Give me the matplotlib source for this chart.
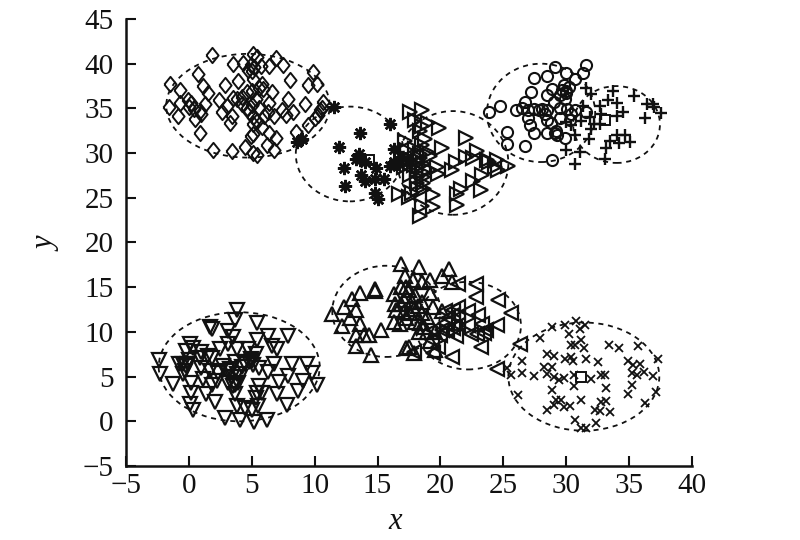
import matplotlib
matplotlib.use("Agg")
import matplotlib.pyplot as plt
from matplotlib.patches import Ellipse

plt.rcParams['font.family'] = ['Liberation Serif', 'DejaVu Serif']

x_ticks = [-5, 0, 5, 10, 15, 20, 25, 30, 35, 40]
y_ticks = [-5, 0, 5, 10, 15, 20, 25, 30, 35, 40, 45]

tri_down = [(-2.4,6.9),(-2.3,5.3),(-1.3,4.2),(-0.8,6.4),(-0.5,6.4),(-0.2,6.2),(-0.3,5.6),(-0.1,6.4),(0.1,8.6),(0.3,8.2),
 (-0.2,7.9),(1.0,7.7),(0.9,7.1),(1.5,7.3),(1.8,7.1),(1.7,10.5),(1.8,10.3),(3.1,10.1),(3.7,11.3),(3.8,12.4),(5.4,11.0),
 (3.5,9.4),(3.1,8.6),(5.4,9.1),(6.3,9.5),(7.9,9.5),(6.6,8.4),(7.0,8.1),(2.5,8.1),(3.8,8.1),(4.7,8.1),(5.3,7.5),(5.0,6.8),
 (4.5,6.4),(3.7,6.6),(2.7,6.2),(1.7,5.6),(2.3,5.4),(1.0,6.0),(1.1,4.7),(0.2,4.3),(-0.5,5.3),(0.2,3.2),(1.4,3.0),(2.1,2.2),
 (1.8,4.1),(2.2,4.5),(3.1,4.3),(3.7,4.1),(3.9,4.3),(3.8,5.3),(3.0,5.6),(3.5,4.0),(3.7,3.0),(5.6,4.0),(5.4,3.2),(5.8,3.2),
 (5.3,2.6),(7.0,3.0),(7.2,4.4),(7.9,5.1),(8.7,3.4),(9.1,4.5),(10.2,4.1),(9.8,5.4),(9.4,6.4),(8.2,6.4),(6.8,6.4),(6.3,5.5),
 (5.6,6.0),(3.8,1.7),(4.5,1.5),(5.5,1.7),(5.0,1.3),(7.8,1.8),(0.1,1.9),(0.3,1.3),(2.9,0.4),(4.1,0.1),(5.2,-0.1),(6.2,0.1),
 (4.8,6.6),(4.2,6.1),(3.3,5.9),(4.1,5.0),(3.4,4.9),(5.1,6.3),(4.9,7.0),(0.0,6.9)]

diamonds = [(-1.5,37.7),(-0.7,37.1),(-1.6,35.2),(-0.9,34.1),(-0.1,35.9),(-0.7,35.6),(0.2,35.6),(0.7,38.9),(1.8,41.0),(1.1,37.5),
 (1.5,36.7),(1.3,35.5),(0.9,34.7),(0.5,33.8),(0.9,32.3),(1.9,30.4),(3.4,30.2),(4.5,30.7),(5.1,30.0),(5.4,29.8),(6.2,30.9),
 (6.8,30.3),(6.9,31.7),(6.4,32.2),(8.5,32.4),(9.5,33.1),(10.3,34.3),(10.6,35.1),(10.7,35.7),(9.2,35.5),(8.3,34.6),(7.9,36.0),
 (7.4,34.8),(6.8,34.1),(6.3,34.6),(6.4,35.6),(6.6,36.8),(5.8,37.7),(5.3,36.0),(5.6,35.1),(5.1,34.0),(5.8,32.9),(5.1,32.1),
 (4.6,35.1),(4.6,36.8),(3.9,38.1),(2.9,37.6),(2.4,35.9),(3.5,36.2),(3.0,35.3),(2.6,34.6),(3.4,34.2),(3.3,33.4),(3.5,40.0),
 (4.3,40.1),(5.1,41.1),(5.4,40.7),(5.0,39.2),(4.9,39.9),(5.7,39.7),(6.4,39.7),(6.9,40.6),(7.5,39.9),(8.0,38.2),(9.9,39.1),
 (9.5,37.6),(10.2,37.7),(5.1,38.3),(5.9,37.2),(4.2,36.3),(4.8,34.6),(5.4,33.6),(5.1,33.2),(4.9,31.9),(7.7,34.3),(5.0,37.0),
 (3.8,36.0),(4.2,35.5),(5.0,35.4),(6.0,34.2),(5.6,37.3),(5.2,39.6),(4.7,39.3),(0.4,34.9),(1.0,34.4),(10.0,33.9),(10.4,34.8),(0.0,35.2)]

stars = [(11.5,35.2),(16.0,33.3),(13.6,32.2),(11.9,30.7),(13.5,29.9),(13.6,29.2),(14.0,29.0),(12.3,28.3),(14.9,28.3),(16.3,30.5),
 (16.3,29.0),(16.7,28.8),(13.7,27.5),(14.0,26.9),(14.8,27.1),(15.5,27.1),(12.4,26.3),(14.8,25.5),(15.0,24.9),(8.6,31.2),
 (9.0,31.6),(16.0,28.6),(13.3,29.3),(16.9,29.6),(17.4,29.2)]

tri_right = [(17.6,34.6),(18.5,34.8),(18.0,33.7),(19.0,33.4),(19.9,32.8),(18.4,32.5),(22.0,31.7),(17.2,31.4),(18.5,30.9),(20.1,30.6),
 (17.3,30.3),(19.2,29.7),(22.9,30.2),(22.0,29.6),(21.2,29.0),(20.9,28.1),(23.7,29.2),(24.5,29.2),(25.4,28.6),(24.6,28.1),
 (23.3,27.5),(22.6,26.9),(23.2,25.9),(21.6,26.0),(21.3,25.4),(21.3,24.2),(19.4,25.3),(19.4,24.0),(18.4,23.0),(18.5,24.1),
 (17.5,25.1),(16.7,25.4),(18.1,26.6),(18.6,26.6),(19.7,28.4),(19.8,27.7),(18.6,28.8),(18.1,28.1),(17.6,29.2),(17.1,28.4),
 (18.4,29.9),(18.1,27.3),(18.6,27.3),(17.7,25.5),(22.6,29.5),(23.9,29.0),(24.3,28.5),(17.6,27.5),(18.9,30.1),(18.2,29.2),
 (18.3,28.6),(18.5,27.9),(18.0,30.5),(18.8,31.6),(18.2,26.0),(18.7,26.0),(18.4,29.4),(17.9,28.7),(19.1,28.1),(18.5,33.0)]

circles = [(29.1,39.6),(30.0,39.0),(31.6,39.9),(31.3,39.0),(30.7,38.3),(27.4,38.4),(28.5,38.6),(29.8,37.6),(28.9,37.2),(30.0,37.0),
 (27.2,36.8),(28.5,36.5),(29.5,36.5),(29.9,36.1),(29.0,35.7),(26.7,35.7),(24.7,35.3),(23.9,34.6),(26.0,34.8),(26.5,35.0),
 (27.0,34.8),(27.8,34.8),(28.5,34.8),(29.5,35.0),(30.7,34.8),(31.6,34.6),(27.0,33.9),(28.5,33.7),(29.5,33.9),(30.3,33.7),
 (27.1,33.1),(27.4,32.2),(25.3,32.4),(28.5,32.2),(29.1,32.2),(29.9,31.7),(25.3,31.0),(26.7,30.8),(28.9,29.2),(29.2,32.5),
 (30.4,34.4),(30.2,37.4),(29.7,37.1),(28.1,34.9),(28.3,34.4),(28.8,33.4),(30.0,36.7),(30.1,34.9),(29.3,32.0),(27.4,34.9)]

pluses = [(31.6,37.3),(32.0,36.6),(33.7,37.0),(35.4,36.4),(36.4,35.5),(36.9,35.5),(37.5,34.5),(36.3,33.9),(33.3,35.9),(34.0,35.6),
 (32.7,35.3),(32.8,34.4),(34.0,34.2),(34.5,34.6),(31.3,35.3),(31.9,34.0),(31.2,33.6),(32.7,33.2),(32.0,32.7),(30.7,32.0),
 (31.8,31.6),(30.0,30.3),(31.1,30.1),(30.7,28.8),(33.2,30.6),(33.5,31.4),(34.0,32.0),(34.7,32.0),(34.2,31.1),(35.1,31.2),
 (33.1,29.3),(30.4,33.1),(30.0,33.5),(32.2,33.3),(37.0,35.2)]

tri_up = [(11.4,12.0),(12.2,10.7),(12.3,12.8),(13.0,13.7),(13.6,14.3),(13.3,12.5),(12.8,11.5),(13.6,10.9),(13.3,9.6),(14.3,9.6),
 (13.9,9.7),(13.3,8.4),(14.5,7.4),(15.3,10.2),(14.8,14.8),(14.8,14.6),(16.9,17.6),(17.2,16.3),(16.3,14.2),(17.3,15.0),
 (16.4,13.1),(16.9,13.1),(16.3,11.1),(17.3,8.2),(16.8,10.9),(17.1,12.2),(17.3,14.0),(18.3,17.3),(20.7,17.0),(18.5,15.6),
 (19.2,15.8),(20.1,16.2),(20.9,15.6),(17.5,14.7),(19.2,14.3),(18.5,13.4),(17.1,13.6),(19.4,12.8),(16.5,12.4),(17.6,12.1),
 (18.5,12.1),(18.9,11.7),(18.0,11.1),(18.3,10.0),(18.9,10.0),(19.6,10.0),(19.6,8.0),(17.5,8.3),(17.9,7.6),(20.1,12.3),(19.2,9.0),
 (17.8,15.8),(18.2,12.9),(17.3,11.6),(18.4,11.0),(17.9,12.6),(17.7,13.4),(18.7,10.6),(18.0,14.1),(16.9,15.0)]

tri_left = [(21.4,15.4),(22.8,15.4),(22.8,13.9),(24.6,13.6),(25.6,12.1),(22.2,12.3),(23.0,11.9),(21.4,12.8),(21.0,12.4),(20.4,12.3),
 (21.4,11.7),(20.4,11.0),(21.4,10.8),(22.2,10.8),(23.3,10.9),(24.5,10.8),(23.6,10.2),(22.9,9.8),(22.4,9.8),(21.2,9.5),
 (20.1,10.2),(19.4,10.2),(19.3,9.1),(19.8,8.3),(19.4,7.6),(20.9,7.2),(23.2,8.3),(26.3,8.7),(24.5,5.8),(17.9,7.8),(21.0,11.9),(20.5,10.2),
 (21.0,10.4),(20.6,11.6),(23.5,9.9),(20.0,9.6)]

crosses = [(28.9,10.5),(27.9,9.3),(29.9,10.8),(30.8,11.2),(31.5,10.8),(31.1,10.3),(30.2,9.8),(31.2,9.1),(30.4,8.5),(30.7,8.5),
 (31.4,8.2),(33.4,8.5),(34.2,8.2),(35.7,8.4),(37.3,7.0),(26.5,6.7),(25.3,6.0),(25.6,5.2),(26.5,5.4),(27.4,5.1),(28.5,7.5),
 (29.0,7.3),(29.9,7.0),(30.4,7.2),(30.5,6.8),(31.6,7.0),(32.5,6.6),(28.2,6.1),(28.9,6.1),(28.5,5.3),(29.0,5.0),(29.4,4.6),
 (29.8,4.8),(30.6,5.2),(32.0,4.7),(32.8,5.2),(33.1,5.2),(33.2,3.7),(30.6,3.9),(31.2,2.4),(28.9,3.5),(29.2,2.4),(29.0,1.8),
 (29.6,2.4),(29.8,1.6),(30.3,1.7),(28.5,1.3),(26.2,2.9),(32.8,2.2),(33.2,2.3),(32.3,1.3),(32.7,1.1),(33.5,1.0),(30.7,0.1),
 (32.4,-0.2),(31.2,-0.8),(31.6,-0.8),(34.9,6.7),(35.3,6.3),(35.9,6.4),(35.2,5.4),(35.6,5.2),(36.2,5.5),(36.9,5.1),(35.2,4.1),
 (34.9,3.0),(37.1,3.3),(36.3,2.1)]

centres = [(14.3,29.2),(33.1,33.7),(31.2,5.0),(21.3,10.8)]

# centre x, centre y, x radius, y radius of each dashed boundary
boundaries = [(4.7,35.3,6.5,5.8),(12.8,29.9,4.3,5.3),(21.0,28.9,4.4,5.8),(28.0,34.5,4.3,5.5),(34.0,33.2,3.45,4.3),
              (4.0,6.1,6.4,6.1),(15.7,12.3,4.3,5.1),(22.2,10.7,4.2,4.9),(31.4,5.0,6.0,6.05)]

fig = plt.figure(figsize=(8, 5.4), dpi=100)
ax = fig.add_axes([126/800, 1-466/540, (692-126)/800, (466-19)/540])

diamond_shape = [(-0.8,0),(0,1),(0.8,0),(0,-1),(-0.8,0)]
series = [
    (tri_down, 'v', 9.5, 1.6),
    (diamonds, diamond_shape, 11, 1.4),
    (stars, (8,2,0), 9.5, 1.8),
    (tri_right, '>', 9.5, 1.6),
    (circles, 'o', 8, 1.5),
    (pluses, '+', 9, 1.7),
    (tri_up, '^', 9.5, 1.6),
    (tri_left, '<', 9.5, 1.6),
    (crosses, 'x', 6, 1.3),
]
for pts, m, ms, lw in series:
    ax.plot([p[0] for p in pts], [p[1] for p in pts], ls='none', marker=m, ms=ms,
            mfc='none', mec='#111111', mew=lw, clip_on=False)
ax.plot([p[0] for p in centres], [p[1] for p in centres], ls='none', marker='s', ms=7,
        mfc='none', mec='#111111', mew=1.4)

for cx, cy, rx, ry in boundaries:
    ax.add_patch(Ellipse((cx, cy), 2*rx, 2*ry, fill=False, ec='#111111', lw=1.3, ls=(0, (2.8, 2.6))))

ax.set_xlim(-5, 40)
ax.set_ylim(-5, 45)
ax.set_xticks(x_ticks)
ax.set_yticks(y_ticks)
for s in ('top', 'right'):
    ax.spines[s].set_visible(False)
for s in ('left', 'bottom'):
    ax.spines[s].set_linewidth(1.8)
    ax.spines[s].set_color('#111111')
ax.tick_params(direction='in', length=7, width=1.5, labelsize=21, color='#111111', labelcolor='#111111')
ax.tick_params(axis='x', pad=5)
ax.tick_params(axis='y', pad=9)
ax.set_xlabel('x', fontsize=22, style='italic', color='#111111')
ax.set_ylabel('y', fontsize=22, style='italic', color='#111111')
ax.xaxis.set_label_coords(0.475, -0.092)
ax.yaxis.set_label_coords(-0.114, 0.497)
fig.savefig('out.png', dpi=100)
